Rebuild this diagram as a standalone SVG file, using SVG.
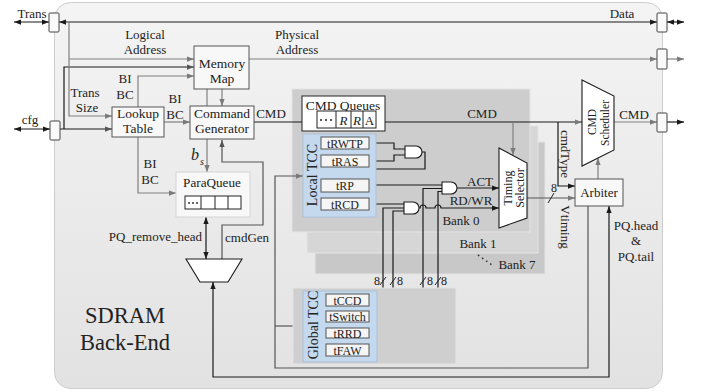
<svg xmlns="http://www.w3.org/2000/svg" width="706" height="392" viewBox="0 0 706 392">
<defs>
<linearGradient id="bg" x1="0" y1="0" x2="0" y2="1"><stop offset="0" stop-color="#f4f4f4"/><stop offset="1" stop-color="#e2e2e2"/></linearGradient>
<marker id="aK" viewBox="0 0 8 6" refX="8" refY="3" markerWidth="7" markerHeight="5.5" markerUnits="userSpaceOnUse" orient="auto-start-reverse"><path d="M0,0 L8,3 L0,6 z" fill="#1a1a1a"/></marker>
<marker id="aG" viewBox="0 0 8 6" refX="8" refY="3" markerWidth="7" markerHeight="5.5" markerUnits="userSpaceOnUse" orient="auto-start-reverse"><path d="M0,0 L8,3 L0,6 z" fill="#7a7a7a"/></marker>
<marker id="aD" viewBox="0 0 8 6" refX="8" refY="3" markerWidth="7" markerHeight="5.5" markerUnits="userSpaceOnUse" orient="auto-start-reverse"><path d="M0,0 L8,3 L0,6 z" fill="#555"/></marker>
</defs>
<style>
text{font-family:"Liberation Serif","Times New Roman",serif;font-size:13px;fill:#222}
.c{text-anchor:middle}
.g{fill:none;stroke:#808080;stroke-width:1.2}
.d{fill:none;stroke:#555;stroke-width:1.2}
.k{fill:none;stroke:#1a1a1a;stroke-width:1.2}
.port{fill:#fafafa;stroke:#444;stroke-width:1}
.box{fill:#f8f8f8;stroke:#555;stroke-width:1}
.tm{fill:#f5f5f5;stroke:#555;stroke-width:1}
.tt{font-size:12px;text-anchor:middle}
.gate{fill:#fff;stroke:#1a1a1a;stroke-width:1.1}
.bank{stroke:#e4e4e4;stroke-width:1}
</style>

<!-- background -->
<rect x="54.5" y="2.5" width="608" height="386" rx="16" fill="url(#bg)" stroke="#cdcdcd"/>
<text x="125" y="323" class="c" style="font-size:22.5px">SDRAM</text>
<text x="125" y="350" class="c" style="font-size:22.5px">Back-End</text>

<!-- bank stack -->
<g id="bank7"><rect class="bank" x="315" y="142" width="230" height="132" fill="#c8c8c8"/><text x="517" y="269" class="c">Bank 7</text></g>
<g id="bank1"><rect class="bank" x="307" y="126" width="231" height="127" fill="#d6d6d6"/><text x="478" y="248" class="c">Bank 1</text></g>
<g id="bank0"><rect class="bank" x="292" y="89" width="238" height="143" fill="#cdcdcd"/><text x="461" y="225" class="c">Bank 0</text></g>
<line x1="478" y1="255" x2="492" y2="265" stroke="#333" stroke-width="1.6" stroke-dasharray="1.5,3.5"/>

<!-- connectors -->
<g id="connectors">
<path class="k" d="M14,22 H49" marker-start="url(#aK)" marker-end="url(#aK)"/>
<path class="k" d="M59,22 H657" marker-start="url(#aK)" marker-end="url(#aK)"/>
<path class="k" d="M667,22 H684" marker-start="url(#aK)" marker-end="url(#aK)"/>
<path class="k" d="M14,129 H50" marker-start="url(#aK)" marker-end="url(#aK)"/>
<path class="k" d="M59,129 H112" marker-end="url(#aD)"/>
<path class="k" d="M64,129 V67 H194" marker-end="url(#aD)"/>
<path class="g" d="M69,22 V116 H112" marker-end="url(#aG)"/>
<path class="g" d="M69,59 H194" marker-end="url(#aG)"/>
<path class="g" d="M138,107 V76 H194" marker-end="url(#aG)"/>
<path class="g" d="M164,122 H190" marker-end="url(#aG)"/>
<path class="g" d="M138,137 V193 H176" marker-end="url(#aG)"/>
<path class="g" d="M207,89 V106"/>
<path class="g" d="M222,89 V106" marker-end="url(#aG)"/>
<path class="g" d="M249,59 H657" marker-end="url(#aG)"/>
<path class="g" d="M667,59 H684" marker-end="url(#aG)"/>
<path class="g" d="M207,139 V172" marker-end="url(#aG)"/>
<path class="d" d="M222,259 V225 H263 V162 H222 V140" marker-end="url(#aD)"/>
<path class="k" d="M206,217 V259" marker-start="url(#aK)" marker-end="url(#aK)"/>
<path class="k" d="M254,122 H317" marker-end="url(#aK)"/>
<path class="k" d="M376,122 H582" marker-end="url(#aG)"/>
<path class="g" d="M513,122 V155" marker-end="url(#aG)"/>
<path class="k" d="M558,122 V186 H575" marker-end="url(#aK)"/>
<path class="g" d="M598,179 V158" marker-end="url(#aG)"/>
<path class="g" d="M614,122 H657" marker-end="url(#aG)"/>
<path class="k" d="M667,122 H684" marker-end="url(#aK)"/>
<path class="d" d="M527,198 H575" marker-end="url(#aG)"/>
<line x1="548" y1="203" x2="554" y2="193" stroke="#222" stroke-width="1"/>
<path class="d" d="M588,206 V368 H275 V176 H303" marker-end="url(#aG)"/>
<path class="d" d="M275,326 H303" marker-end="url(#aG)"/>
<path class="k" d="M213,282 V377 H609 V206" marker-start="url(#aK)" marker-end="url(#aK)"/>
<!-- local wiring -->
<path class="k" d="M369,143 H394 V149 H405"/>
<path class="k" d="M369,161 H394 V155 H405"/>
<path class="k" d="M422,152 H425 V169 H345 V179" marker-end="url(#aK)"/>
<path class="k" d="M369,185 H442"/>
<path class="k" d="M369,204 H404"/>
<path class="k" d="M457,188 H499" marker-end="url(#aK)"/>
<path class="k" d="M419,208 H420 a3,3 0 0 1 6,0 H435 a3,3 0 0 1 6,0 H499" marker-end="url(#aK)"/>
<path class="k" d="M369,300 H383 V208 H404"/>
<path class="k" d="M369,317 H393 V211 H404"/>
<path class="k" d="M369,333 H423 V188.5 H442"/>
<path class="k" d="M369,350 H438 V191.5 H442"/>
<g stroke="#222" stroke-width="1">
<line x1="380" y1="285" x2="386" y2="277"/>
<line x1="390" y1="285" x2="396" y2="277"/>
<line x1="420" y1="285" x2="426" y2="277"/>
<line x1="435" y1="285" x2="441" y2="277"/>
</g>
<text x="374" y="285" style="font-size:12px">8</text>
<text x="397" y="285" style="font-size:12px">8</text>
<text x="427" y="285" style="font-size:12px">8</text>
<text x="441" y="285" style="font-size:12px">8</text>
<text x="551" y="192" style="font-size:12px">8</text>
</g>

<!-- ports -->
<g id="portTrans"><rect class="port" x="49" y="13" width="10" height="19" rx="1"/></g>
<g id="portCfg"><rect class="port" x="50" y="121" width="10" height="19" rx="1"/></g>
<g id="portData"><rect class="port" x="657" y="13" width="10" height="19" rx="1"/></g>
<g id="portAddr"><rect class="port" x="657" y="49" width="10" height="20" rx="1"/></g>
<g id="portCmd"><rect class="port" x="657" y="113" width="10" height="19" rx="1"/></g>

<!-- labels -->
<text x="32" y="18" class="c">Trans</text>
<text x="30" y="124" class="c">cfg</text>
<text x="622" y="18" class="c">Data</text>
<text x="145" y="39" class="c">Logical</text>
<text x="145" y="54" class="c">Address</text>
<text x="297" y="39" class="c">Physical</text>
<text x="297" y="54" class="c">Address</text>
<text x="85" y="97" class="c">Trans</text>
<text x="87" y="112" class="c">Size</text>
<text x="125" y="83" class="c">BI</text>
<text x="125" y="99" class="c">BC</text>
<text x="175" y="103" class="c">BI</text>
<text x="175" y="119" class="c">BC</text>
<text x="150" y="168" class="c">BI</text>
<text x="150" y="184" class="c">BC</text>
<text x="271" y="118" class="c">CMD</text>
<text x="482" y="118" class="c">CMD</text>
<text x="634" y="119" class="c">CMD</text>
<text x="480" y="186" class="c">ACT</text>
<text x="471" y="205" class="c">RD/WR</text>
<text x="202" y="241" style="text-anchor:end">PQ_remove_head</text>
<text x="225" y="242">cmdGen</text>
<text x="191" y="160" style="font-size:16px;font-style:italic">b</text>
<text x="200" y="165" style="font-size:10px;font-style:italic">s</text>
<text transform="translate(561,154) rotate(90)" class="c">cmdType</text>
<text transform="translate(561,227) rotate(90)" class="c">Vtiming</text>
<text x="636" y="230" class="c">PQ.head</text>
<text x="636" y="245" class="c">&amp;</text>
<text x="636" y="261" class="c">PQ.tail</text>

<!-- nodes -->
<g id="lookup"><rect class="box" x="112" y="107" width="52" height="30"/><text x="138" y="118" class="c" style="font-size:13.5px">Lookup</text><text x="138" y="133" class="c" style="font-size:13.5px">Table</text></g>
<g id="memmap"><rect class="box" x="194" y="46" width="55" height="43"/><text x="222" y="68" class="c" style="font-size:13.5px">Memory</text><text x="222" y="83" class="c" style="font-size:13.5px">Map</text></g>
<g id="cmdgen"><rect class="box" x="190" y="106" width="64" height="33"/><text x="222" y="118" class="c" style="font-size:13.5px">Command</text><text x="222" y="133" class="c" style="font-size:13.5px">Generator</text></g>
<g id="paraqueue"><rect x="176" y="172" width="74" height="45" fill="#f8f8f8" stroke="#d4d4d4"/><text x="212" y="187" class="c" style="font-size:13.2px">ParaQueue</text>
<rect x="185" y="196" width="56" height="13" fill="#fff" stroke="#222"/><path d="M201,196 V209 M215,196 V209 M228,196 V209" stroke="#222"/>
<circle cx="189" cy="203" r="0.9" fill="#222"/><circle cx="193" cy="203" r="0.9" fill="#222"/><circle cx="197" cy="203" r="0.9" fill="#222"/></g>
<g id="mux"><polygon points="186,259 242,259 228,282 200,282" fill="#fff" stroke="#1a1a1a" stroke-width="1.1"/></g>
<g id="cmdqueues"><rect x="302" y="96" width="83" height="35" fill="#fff" stroke="#222"/><text x="343" y="110" class="c" style="font-size:13.5px">CMD Queues</text>
<rect x="317" y="111" width="59" height="17" fill="#fff" stroke="#222"/><path d="M336,111 V128 M351,111 V128 M363,111 V128" stroke="#222"/>
<circle cx="321" cy="120" r="1" fill="#222"/><circle cx="326" cy="120" r="1" fill="#222"/><circle cx="331" cy="120" r="1" fill="#222"/>
<text x="343.5" y="125" class="c" style="font-style:italic">R</text><text x="357" y="125" class="c" style="font-style:italic">R</text><text x="369.5" y="125" class="c">A</text></g>
<g id="localtcc"><rect x="303" y="134" width="73" height="83" fill="#c5d9ee" stroke="#a9c1d9"/><text transform="translate(317,175) rotate(-90)" class="c" style="font-size:14px">Local TCC</text>
<rect class="tm" x="321" y="137" width="48" height="12"/><text x="345" y="147.5" class="tt">tRWTP</text>
<rect class="tm" x="321" y="155" width="48" height="12"/><text x="345" y="165.5" class="tt">tRAS</text>
<rect class="tm" x="321" y="179" width="48" height="13"/><text x="345" y="190" class="tt">tRP</text>
<rect class="tm" x="321" y="198" width="48" height="12"/><text x="345" y="208.5" class="tt">tRCD</text></g>
<g id="globaltcc"><rect x="293" y="288" width="163" height="76" fill="#cfcfcf" stroke="#e4e4e4"/><rect x="303" y="291" width="74" height="71" fill="#c5d9ee" stroke="#a9c1d9"/>
<text transform="translate(318,325) rotate(-90)" class="c" style="font-size:14px">Global TCC</text>
<rect class="tm" x="326" y="294" width="43" height="12"/><text x="347.5" y="304.5" class="tt">tCCD</text>
<rect class="tm" x="326" y="311" width="43" height="11"/><text x="347.5" y="321" class="tt">tSwitch</text>
<rect class="tm" x="326" y="328" width="43" height="10"/><text x="347.5" y="337.5" class="tt">tRRD</text>
<rect class="tm" x="326" y="344" width="43" height="12"/><text x="347.5" y="354.5" class="tt">tFAW</text></g>
<g id="gates">
<path class="gate" d="M405,146 h11 a6,6 0 0 1 0,12 h-11 z"/>
<path class="gate" d="M442,182 h9 a6,6 0 0 1 0,12 h-9 z"/>
<path class="gate" d="M404,202 h9 a6,6 0 0 1 0,12 h-9 z"/>
</g>
<g id="timingsel"><polygon points="499,148 527,163 527,218 499,228" fill="#fff" stroke="#1a1a1a" stroke-width="1.1"/>
<text transform="translate(512,188) rotate(-90)" class="c" style="font-size:12px">Timing</text><text transform="translate(524,188) rotate(-90)" class="c" style="font-size:12px">Selector</text></g>
<g id="scheduler"><polygon points="582,80 614,96 614,150 582,166" fill="#fff" stroke="#1a1a1a" stroke-width="1.1"/>
<text transform="translate(596,122) rotate(-90)" class="c" style="font-size:11.5px">CMD</text><text transform="translate(609,123) rotate(-90)" class="c" style="font-size:11.5px">Scheduler</text></g>
<g id="arbiter"><rect x="575" y="179" width="48" height="27" fill="#f8f8f8" stroke="#555"/><text x="599" y="197" class="c">Arbiter</text></g>
</svg>
